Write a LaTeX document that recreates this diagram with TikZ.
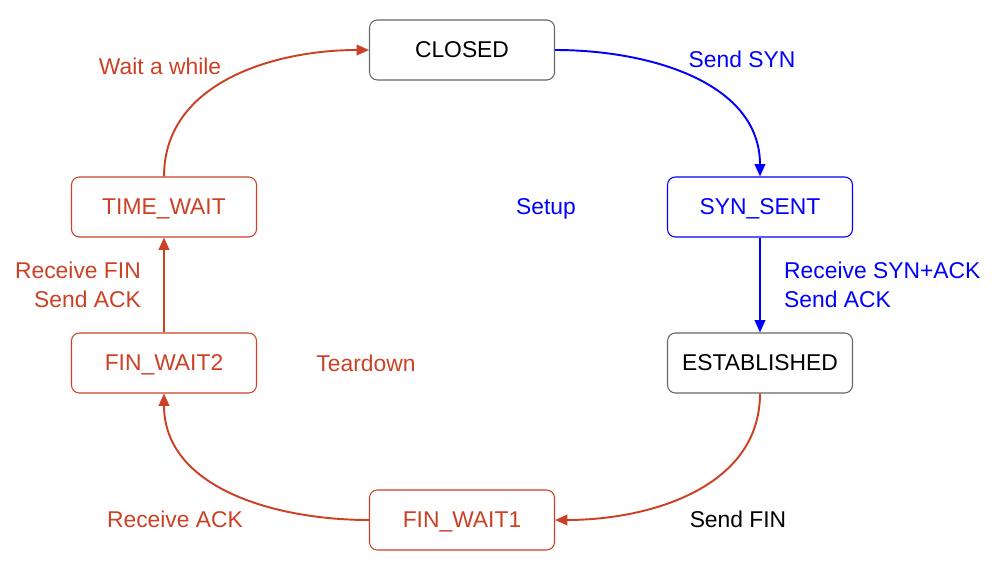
\documentclass[tikz,border=0pt]{standalone}
\usepackage{fontspec}
\setmainfont{Liberation Sans}
\usepackage{xcolor}
\usetikzlibrary{arrows.meta}

\definecolor{berry}{HTML}{CC4125}
\definecolor{setupblue}{HTML}{0000FF}
\definecolor{boxgray}{HTML}{666666}

\begin{document}
\begin{tikzpicture}[
		font=\fontsize{13}{16.4}\selectfont,
		every node/.style={text depth=0pt},
		state/.style={draw=boxgray, line width=0.6pt, rounded corners=4.5pt,
			minimum width=3.7cm, minimum height=1.2cm, fill=white},
		link/.style={line width=1.1pt, -{Triangle[length=7pt,width=6pt]}}
	]
			\useasboundingbox (0,0) rectangle (20.06,-11.32);

			% states
			\node[state] (closed) at (9.24,-1.0) {CLOSED};
			\node[state, draw=setupblue, text=setupblue] (synsent) at (15.2,-4.14) {SYN\_SENT};
			\node[state] (established) at (15.2,-7.26) {ESTABLISHED};
			\node[state, draw=berry, text=berry] (finwait1) at (9.24,-10.4) {FIN\_WAIT1};
			\node[state, draw=berry, text=berry] (finwait2) at (3.28,-7.26) {FIN\_WAIT2};
			\node[state, draw=berry, text=berry] (timewait) at (3.28,-4.14) {TIME\_WAIT};

			% setup
			\begin{scope}[setupblue]
				\draw[link] (closed.east) to[out=0, in=90] (synsent.north);
				\draw[link] (synsent.south) -- (established.north);
				\node (sendsyn) at (14.84,-1.18) {Send SYN};
				\node (setup) at (10.92,-4.14) {Setup};
				\node[anchor=west, align=left] (recvsynack) at (15.56,-5.69) {Receive SYN+ACK\\Send ACK};
			\end{scope}

			% teardown
			\begin{scope}[berry]
				\draw[link] (established.south) to[out=-90, in=0] (finwait1.east);
				\draw[link] (finwait1.west) to[out=180, in=-90] (finwait2.south);
				\draw[link] (finwait2.north) -- (timewait.south);
				\draw[link] (timewait.north) to[out=90, in=180] (closed.west);
				\node (recvack) at (3.5,-10.38) {Receive ACK};
				\node (teardown) at (7.32,-7.26) {Teardown};
				\node[anchor=east, align=right] (recvfin) at (2.94,-5.69) {Receive FIN\\Send ACK};
				\node (waitwhile) at (3.2,-1.32) {Wait a while};
			\end{scope}

			\node (sendfin) at (14.76,-10.38) {Send FIN};
		\end{tikzpicture}
\end{document}
